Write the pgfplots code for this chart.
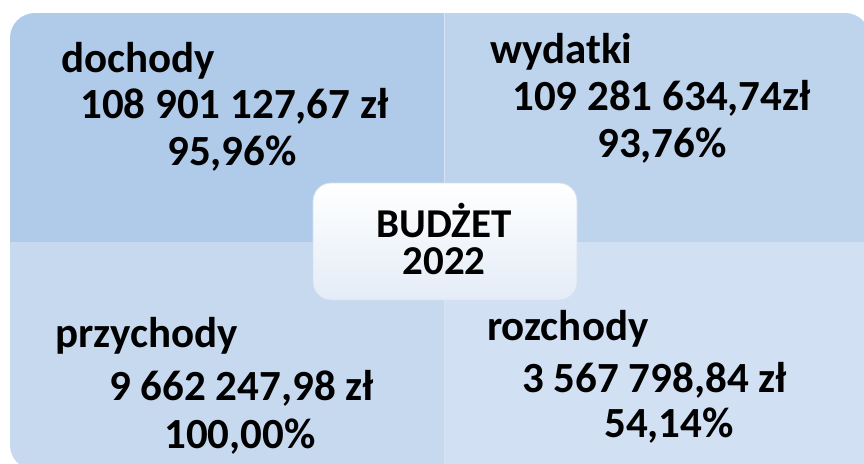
\documentclass[border=0pt]{standalone}
\usepackage{pgfplots}
\pgfplotsset{compat=1.18}
\usepackage{fontspec}
\setmainfont{Carlito}
\definecolor{qTL}{RGB}{176,202,233}
\definecolor{qTR}{RGB}{190,211,236}
\definecolor{qBL}{RGB}{198,217,239}
\definecolor{qBR}{RGB}{209,224,242}
\definecolor{cBot}{RGB}{228,236,247}
\definecolor{cEdge}{RGB}{214,225,240}
\definecolor{divl}{RGB}{214,228,244}
\begin{document}
\begin{tikzpicture}
\begin{axis}[
  width=864pt, height=463pt, scale only axis,
  xmin=0, xmax=864, ymin=0, ymax=463, y dir=reverse,
  hide axis, clip=true,
]
% invisible frame to fix the bounding box
\addplot[draw=none, fill=white] coordinates {(0,0) (864,0) (864,463) (0,463)} --cycle;
% top-left quadrant
\addplot[fill=qTL, draw=none] coordinates {(35,13) (444,13) (444,242) (35,242)} --cycle;
\addplot[fill=qTL, draw=none] coordinates {(10,38) (444,38) (444,242) (10,242)} --cycle;
\addplot[fill=qTL, draw=none, rounded corners=25pt] coordinates {(50,13) (120,13) (120,120) (10,120) (10,13) (50,13)};
% top-right quadrant
\addplot[fill=qTR, draw=none] coordinates {(444,13) (845,13) (845,242) (444,242)} --cycle;
\addplot[fill=qTR, draw=none] coordinates {(444,38) (880,38) (880,242) (444,242)} --cycle;
\addplot[fill=qTR, draw=none, rounded corners=25pt] coordinates {(800,13) (870,13) (870,120) (760,120) (760,13) (800,13)};
% bottom-left quadrant
\addplot[fill=qBL, draw=none] coordinates {(10,242) (444,242) (444,445) (10,445)} --cycle;
\addplot[fill=qBL, draw=none] coordinates {(35,242) (444,242) (444,480) (35,480)} --cycle;
\addplot[fill=qBL, draw=none, rounded corners=25pt] coordinates {(10,400) (10,470) (120,470) (120,360) (10,360) (10,400)};
% bottom-right quadrant
\addplot[fill=qBR, draw=none] coordinates {(444,242) (880,242) (880,480) (444,480)} --cycle;
% divider lines
\addplot[divl, line width=1pt] coordinates {(444,13) (444,242)};
\addplot[divl, line width=1pt] coordinates {(444,242) (444,470)};
% centre box
\addplot[top color=white, bottom color=cBot, draw=cEdge, line width=0.8pt, rounded corners=18pt]
  coordinates {(445,183) (577,183) (577,300) (313,300) (313,183) (445,183)};

\begin{scope}[every node/.style={font=\fontsize{43}{47}\selectfont\bfseries, anchor=base west, inner sep=0pt}]
\node at (axis cs:61,72) {dochody};
\node at (axis cs:80,118) {108 901 127,67 zł};
\node at (axis cs:167,165) {95,96\%};
\node at (axis cs:490,63) {wydatki};
\node at (axis cs:512,110) {109 281 634,74zł};
\node at (axis cs:597,157) {93,76\%};
\node at (axis cs:55,347) {przychody};
\node at (axis cs:109,400) {9 662 247,98 zł};
\node at (axis cs:164,448) {100,00\%};
\node at (axis cs:487,340) {rozchody};
\node at (axis cs:522,392) {3 567 798,84 zł};
\node at (axis cs:604,437) {54,14\%};
\node[anchor=base, font=\fontsize{41}{47}\selectfont\bfseries] at (axis cs:444,237) {BUDŻET};
\node[anchor=base, font=\fontsize{41}{47}\selectfont\bfseries] at (axis cs:444,274) {2022};
\end{scope}
\end{axis}
\end{tikzpicture}
\end{document}
